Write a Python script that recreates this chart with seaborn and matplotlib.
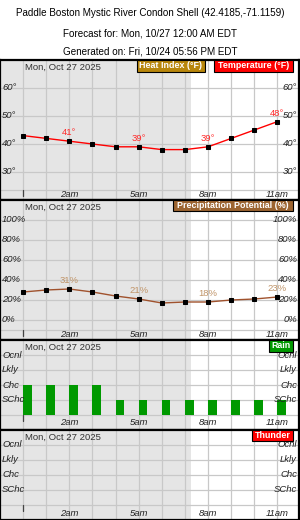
import matplotlib
matplotlib.use("Agg")
import matplotlib.pyplot as plt
import seaborn as sns
import pandas as pd
from matplotlib.patches import Rectangle

sns.set_style("white")
plt.rcParams['font.family'] = ['Liberation Sans', 'DejaVu Sans']

# ---- data ----
hours = list(range(12))
temperature = [43, 42, 41, 40, 39, 39, 38, 38, 39, 42, 45, 48]
precip = [28, 30, 31, 28, 24, 21, 17, 18, 18, 20, 21, 23]
rain_level = [2, 2, 2, 2, 1, 1, 1, 1, 1, 1, 1, 1]   # 0 none,1 SChc,2 Chc,3 Lkly,4 Ocnl
thunder_level = [0] * 12
label_hours = [2, 5, 8, 11]
hour_labels = ["2am", "5am", "8am", "11am"]
temp_ticks = [30, 40, 50, 60]
precip_ticks = [0, 20, 40, 60, 80, 100]
cat_ticks = [1, 2, 3, 4]
cat_labels = ["SChc", "Chc", "Lkly", "Ocnl"]
date_label = "Mon, Oct 27 2025"
sunrise_hour = 7.27
title_lines = ["Paddle Boston Mystic River Condon Shell (42.4185,-71.1159)",
               "Forecast for: Mon, 10/27 12:00 AM EDT",
               "Generated on: Fri, 10/24 05:56 PM EDT"]

W, H = 300, 520
fig = plt.figure(figsize=(W / 100, H / 100), dpi=100)

GRID = "#c8c8c8"
SHADE = "#e5e5e5"
TICKC = "#222222"
FS = 6.8


def make_panel(top, bottom, ylim):
    ax = fig.add_axes([0.0, 1 - bottom / H, 299 / W, (bottom - top) / H])
    ax.set_xlim(-1, 11.93)
    ax.set_ylim(*ylim)
    ax.set_xticks([])
    ax.set_yticks([])
    for s in ax.spines.values():
        s.set_color("black")
        s.set_linewidth(1.6)
    ax.axvspan(-1, sunrise_hour, color=SHADE, zorder=0, lw=0)
    for h in hours:
        ax.axvline(h, color=GRID, lw=0.9, zorder=1)
    return ax


def strip(ax, top, bottom, line_px, label_px):
    hpx = bottom - top
    f = (bottom - line_px) / hpx
    ax.plot([0, 1], [f, f], transform=ax.transAxes, color=GRID, lw=0.9, zorder=1)
    lf = (bottom - label_px) / hpx
    for h, lab in zip(label_hours, hour_labels):
        ax.text(h, lf, lab, transform=ax.get_xaxis_transform(), ha="center", va="center",
                fontsize=FS, style="italic", color=TICKC, zorder=5)
    ax.plot([0, 0], [f, f - 6 / hpx], transform=ax.get_xaxis_transform(), color="#444444",
            lw=0.9, zorder=4)
    # header
    ax.text(0.1, 1 - 7 / hpx, date_label, transform=ax.get_xaxis_transform(),
            ha="left", va="center", fontsize=FS, color="#333333", zorder=5)


def side_labels(ax, vals, texts):
    for v, t in zip(vals, texts):
        ax.text(2 / 299, v, t, transform=ax.get_yaxis_transform(), ha="left", va="center",
                fontsize=FS, style="italic", color=TICKC, zorder=5)
        ax.text(1 - 2 / 299, v, t, transform=ax.get_yaxis_transform(), ha="right", va="center",
                fontsize=FS, style="italic", color=TICKC, zorder=5)
        ax.axhline(v, color=GRID, lw=0.9, zorder=1)


def legend_box(x0, x1, y0, y1, color, text):
    fig.add_artist(Rectangle((x0 / W, 1 - y1 / H), (x1 - x0) / W, (y1 - y0) / H,
                             transform=fig.transFigure, facecolor=color,
                             edgecolor="black", lw=0.8, zorder=10))
    fig.text((x0 + x1) / 2 / W, 1 - (y0 + y1) / 2 / H, text, ha="center", va="center",
             color="white", fontsize=6.4, fontweight="bold", zorder=11)


# ---- title ----
for t, y in zip(title_lines, [13, 33, 52]):
    fig.text(0.5, 1 - y / H, t, ha="center", va="center", fontsize=7.1, color="black")

# ---- panel 1: temperature ----
ax1 = make_panel(60, 200, (20, 70))
side_labels(ax1, temp_ticks, [f"{v}°" for v in temp_ticks])
strip(ax1, 60, 200, 190, 194.5)
df_t = pd.DataFrame({"hour": hours, "temp": temperature})
sns.lineplot(data=df_t, x="hour", y="temp", ax=ax1, color="red", lw=1.0, zorder=3,
             marker="s", markersize=2.6, markerfacecolor="black", markeredgecolor="black")
for h in label_hours:
    ax1.annotate(f"{temperature[h]}°", (h, temperature[h]), xytext=(0, 6),
                 textcoords="offset points", ha="center", va="center",
                 fontsize=FS, color="#ff2a2a", zorder=6)
ax1.set_xlabel(""); ax1.set_ylabel("")
ax1.set_xlim(-1, 11.93)
legend_box(137, 205, 60, 72, "#b8860b", "Heat Index (°F)")
legend_box(214, 293, 60, 72, "#ff0000", "Temperature (°F)")

# ---- panel 2: precipitation ----
ax2 = make_panel(200, 340, (-20, 120))
side_labels(ax2, precip_ticks, [f"{v}%" for v in precip_ticks])
strip(ax2, 200, 340, 330, 334.5)
df_p = pd.DataFrame({"hour": hours, "pop": precip})
sns.lineplot(data=df_p, x="hour", y="pop", ax=ax2, color="#a0522d", lw=1.0, zorder=3,
             marker="s", markersize=2.6, markerfacecolor="black", markeredgecolor="black")
for h in label_hours:
    ax2.annotate(f"{precip[h]}%", (h, precip[h]), xytext=(0, 6),
                 textcoords="offset points", ha="center", va="center",
                 fontsize=FS, color="#c09468", zorder=6)
ax2.set_xlabel(""); ax2.set_ylabel("")
ax2.set_xlim(-1, 11.93)
legend_box(173, 293, 200, 211, "#9c6430", "Precipitation Potential (%)")

# ---- panel 3: rain ----
ax3 = make_panel(340, 430, (-1, 5))
side_labels(ax3, cat_ticks, cat_labels)
strip(ax3, 340, 430, 415, 422.5)
ax3.bar(hours, rain_level, width=0.37, align="edge", color="#009900", lw=0, zorder=3)
legend_box(269, 293, 340, 352, "#009900", "Rain")

# ---- panel 4: thunder ----
ax4 = make_panel(430, 519.5, (-1, 5))
side_labels(ax4, cat_ticks, cat_labels)
strip(ax4, 430, 519.5, 505, 513)
th_h = [h for h, v in zip(hours, thunder_level) if v > 0]
th_v = [v for v in thunder_level if v > 0]
if th_h:
    ax4.bar(th_h, th_v, width=0.37, align="edge", color="red", lw=0, zorder=3)
legend_box(252, 293, 430, 441, "#ff0000", "Thunder")

fig.savefig("out.png", dpi=100)
